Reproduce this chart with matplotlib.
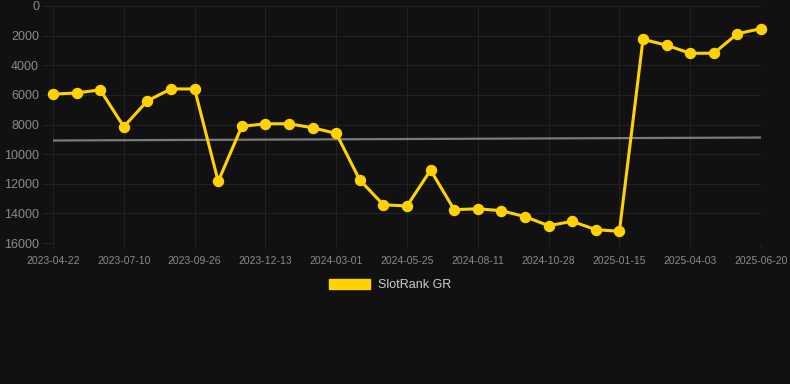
import matplotlib.pyplot as plt
from matplotlib.patches import Patch

# rank values per snapshot (lower is better, axis is reversed)
rank_values = [5950, 5870, 5660, 8150, 6400, 5600, 5600, 11840, 8130, 7950,
               7950, 8220, 8600, 11750, 13420, 13500, 11080, 13750, 13690, 13820,
               14220, 14830, 14540, 15100, 15210, 2250, 2650, 3190, 3190, 1870,
               1530]
tick_labels = ["2023-04-22", "2023-07-10", "2023-09-26", "2023-12-13", "2024-03-01",
               "2024-05-25", "2024-08-11", "2024-10-28", "2025-01-15", "2025-04-03",
               "2025-06-20"]
trend_values = [9080, 8880]
y_ticks = [0, 2000, 4000, 6000, 8000, 10000, 12000, 14000, 16000]

bg = "#111111"
grid_col = "#222222"
plt.rcParams.update({'font.family': ['Liberation Sans', 'DejaVu Sans']})

fig = plt.figure(figsize=(7.9, 3.84), dpi=100, facecolor=bg)
W, H = 790, 384
ax = fig.add_axes([53 / W, 1 - 243 / H, (761 - 53) / W, (243 - 6) / H])
ax.set_facecolor(bg)

x = list(range(len(rank_values)))
ax.plot([x[0], x[-1]], trend_values, color="#7a7a7a", linewidth=1.6, zorder=2)
ax.plot(x, rank_values, color="#FFD200", linewidth=2.2, marker="o",
        markersize=7.2, zorder=3, clip_on=False)

ax.set_xlim(0, len(rank_values) - 1)
ax.set_ylim(16000, 0)
ax.set_yticks(y_ticks)
ax.set_yticklabels([str(v) for v in y_ticks])
ax.set_xticks(x[::3])
ax.set_xticklabels(tick_labels)

ax.grid(True, color=grid_col, linewidth=0.8)
for s in ax.spines.values():
    s.set_visible(False)
ax.tick_params(axis="y", colors=grid_col, labelcolor="#8a8a8a", labelsize=9,
               length=8, width=0.8, pad=2)
ax.tick_params(axis="x", colors=grid_col, labelcolor="#8a8a8a", labelsize=7.5,
               length=4, width=0.8, pad=5)
ax.set_axisbelow(True)

handle = Patch(facecolor="#FFD200", edgecolor="#FFD200")
fig.legend([handle], ["SlotRank GR"], loc="center", bbox_to_anchor=(390 / W, 1 - 285 / H),
           frameon=False, fontsize=9, labelcolor="#cccccc", handlelength=3.3,
           handleheight=0.9, handletextpad=0.6)

fig.savefig("out.png", dpi=100, facecolor=bg)
